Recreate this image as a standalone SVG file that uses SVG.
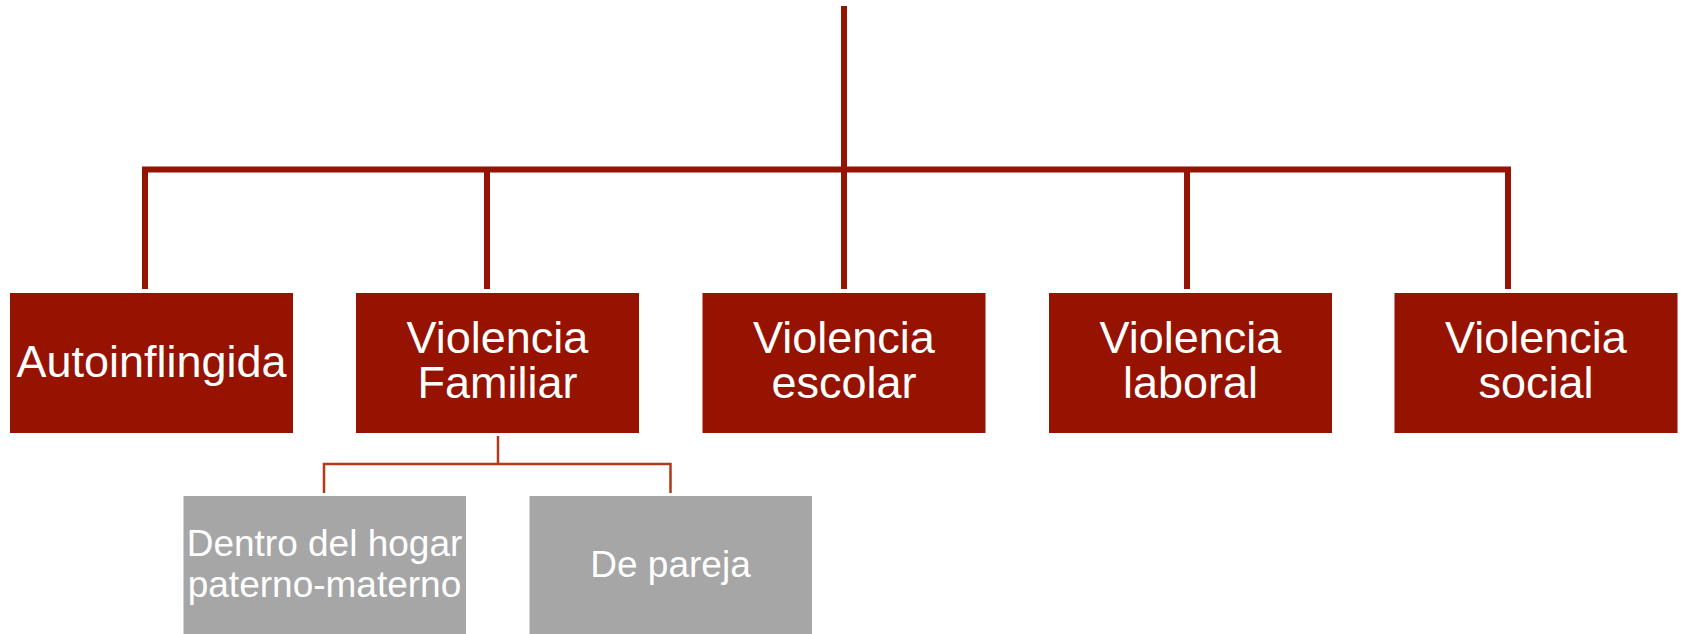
<svg xmlns="http://www.w3.org/2000/svg" width="1683" height="634" viewBox="0 0 1683 634">
<style>
.main{fill:#951300;}
.sub{fill:#A6A6A6;}
.t{font-family:"Liberation Sans",Arial,sans-serif;fill:#FFFFFF;text-anchor:middle;}
.tm{font-size:45px;}
.ts{font-size:37px;}
.c1{stroke:#951300;stroke-width:6;fill:none;}
.c2{stroke:#B03A1A;stroke-width:2.5;fill:none;}
</style>
<rect width="1683" height="634" fill="#FFFFFF"/>
<g id="connectors">
<line class="c1" x1="844" y1="6" x2="844" y2="169.5"/>
<polyline class="c1" points="145,289 145,169.5 1508,169.5 1508,289"/>
<line class="c1" x1="487" y1="169.5" x2="487" y2="289"/>
<line class="c1" x1="844" y1="169.5" x2="844" y2="289"/>
<line class="c1" x1="1187" y1="169.5" x2="1187" y2="289"/>
<line class="c2" x1="498" y1="436" x2="498" y2="464"/>
<polyline class="c2" points="324,493 324,464 670.5,464 670.5,493"/>
</g>
<g id="autoinflingida">
<rect class="main" x="10" y="293" width="283" height="140"/>
<text class="t" x="151.5" y="377" style="font-size:45px">Autoinflingida</text>
</g>
<g id="violencia-familiar">
<rect class="main" x="356" y="293" width="283" height="140"/>
<text class="t tm" x="497.5" y="353">Violencia</text>
<text class="t tm" x="497.5" y="398">Familiar</text>
</g>
<g id="violencia-escolar">
<rect class="main" x="702.5" y="293" width="283" height="140"/>
<text class="t tm" x="844" y="353">Violencia</text>
<text class="t tm" x="844" y="398">escolar</text>
</g>
<g id="violencia-laboral">
<rect class="main" x="1049" y="293" width="283" height="140"/>
<text class="t tm" x="1190.5" y="353">Violencia</text>
<text class="t tm" x="1190.5" y="398">laboral</text>
</g>
<g id="violencia-social">
<rect class="main" x="1394.5" y="293" width="283" height="140"/>
<text class="t tm" x="1536" y="353">Violencia</text>
<text class="t tm" x="1536" y="398">social</text>
</g>
<g id="dentro-del-hogar">
<rect class="sub" x="183.5" y="496" width="282.5" height="138"/>
<text class="t ts" x="324.5" y="556">Dentro del hogar</text>
<text class="t ts" x="324.5" y="597">paterno-materno</text>
</g>
<g id="de-pareja">
<rect class="sub" x="529.5" y="496" width="282.5" height="138"/>
<text class="t ts" x="670.5" y="577">De pareja</text>
</g>
</svg>
